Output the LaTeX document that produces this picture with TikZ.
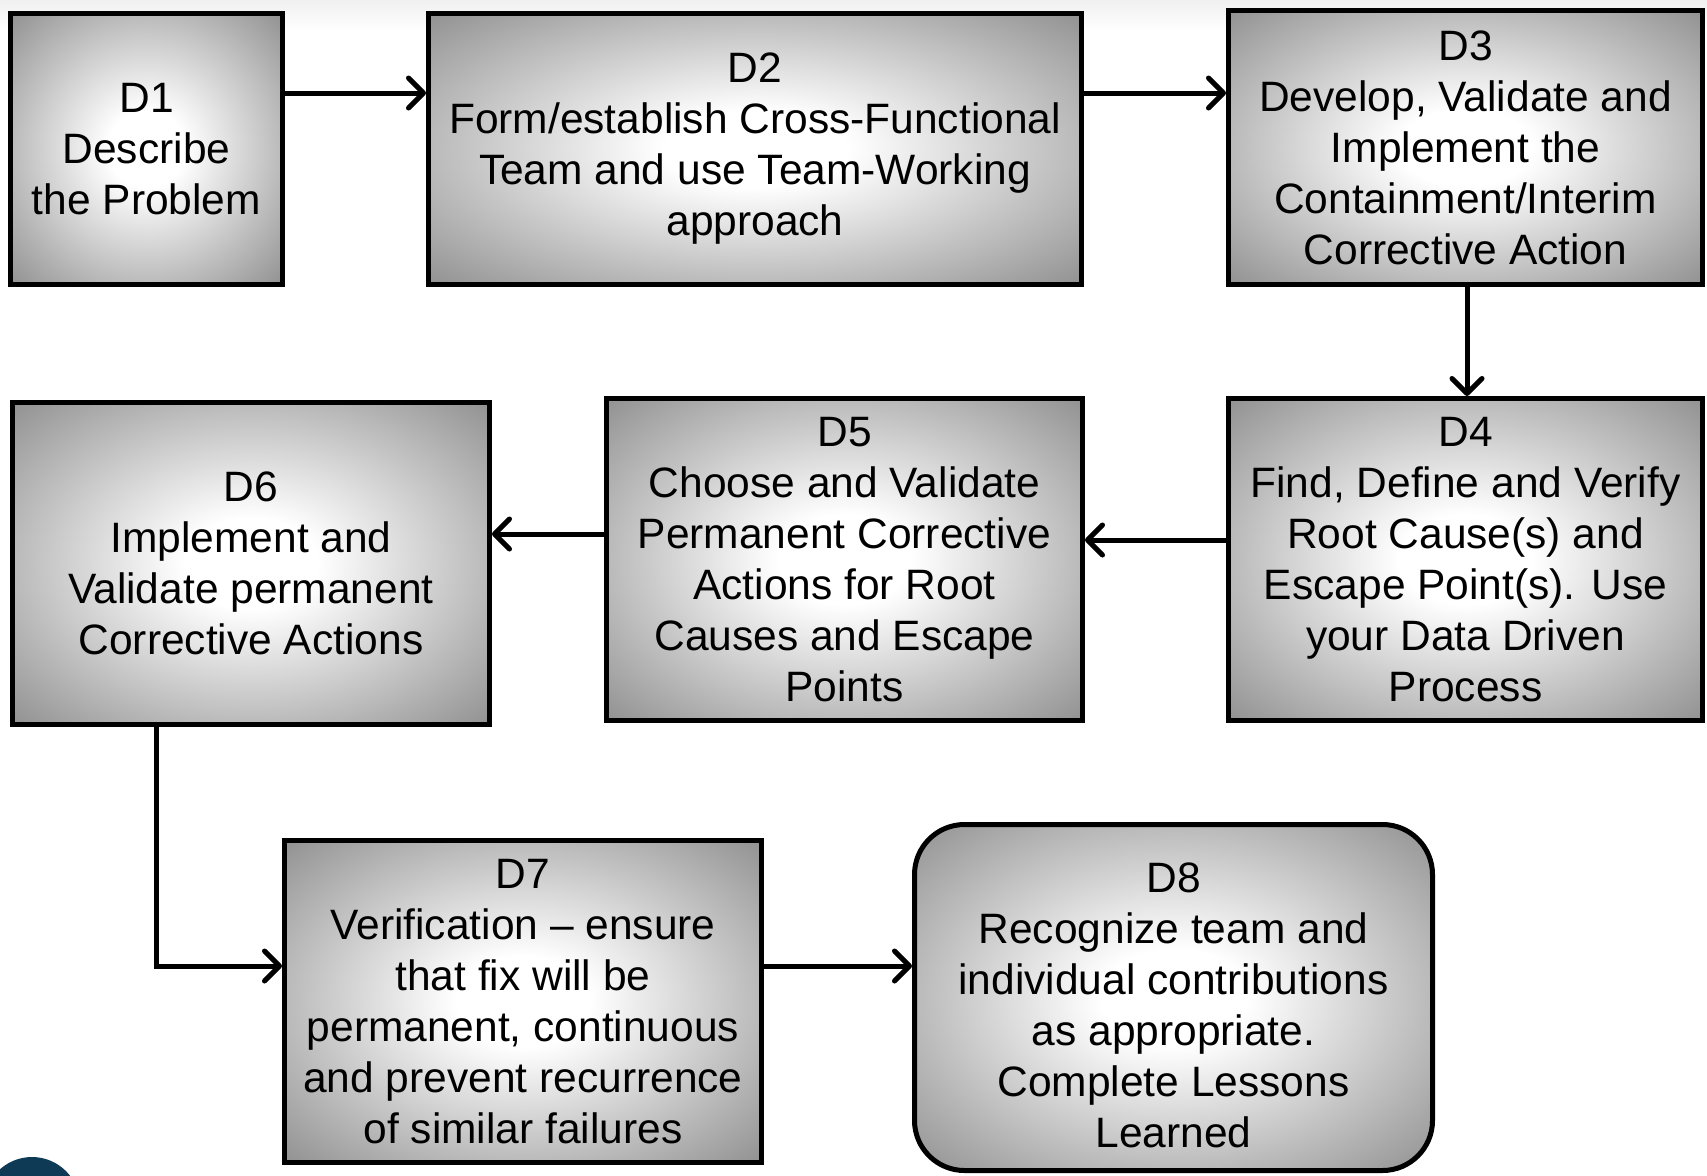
\documentclass[tikz,border=0pt]{standalone}
\usepackage{fontspec}
\setmainfont{Liberation Sans}
\usetikzlibrary{arrows.meta}
\definecolor{logoblue}{HTML}{0F3A55}
\pgfdeclareradialshading{boxglow}{\pgfpoint{0bp}{0bp}}{color(0bp)=(white); color(7bp)=(white); color(36bp)=(black!44); color(50bp)=(black!44)}
\tikzset{
  dbox/.style={draw=black, line width=5pt, shading=boxglow,
    align=center, inner sep=0pt, font=\fontsize{42.5}{51}\selectfont},
  arr/.style={line width=5pt, -{Straight Barb[length=15pt,width=30pt,round]}}
}
\begin{document}
\begin{tikzpicture}[x=1pt,y=-1pt]
\useasboundingbox (0,0) rectangle (1707,1175);
\shade[top color=black!6, bottom color=white] (0,0) rectangle (1707,30);
\begin{scope}
\clip (0,0) rectangle (1707,1175);
\fill[logoblue] (32,1205) circle (48);
\end{scope}

\node[dbox, minimum width=272pt, minimum height=271pt] (d1) at (146.5,149) {D1\\Describe\\the Problem};
\node[dbox, minimum width=653pt, minimum height=271pt] (d2) at (755,149) {D2\\Form/establish Cross-Functional\\Team and use Team-Working\\approach};
\node[dbox, minimum width=474pt, minimum height=274pt] (d3) at (1465.5,147.5) {D3\\Develop, Validate and\\Implement the\\Containment/Interim\\Corrective Action};
\node[dbox, minimum width=474pt, minimum height=322pt] (d4) at (1465.5,559.5) {D4\\Find, Define and Verify\\Root Cause(s) and\\Escape Point(s). Use\\your Data Driven\\Process};
\node[dbox, minimum width=476pt, minimum height=322pt] (d5) at (844.5,559.5) {D5\\Choose and Validate\\Permanent Corrective\\Actions for Root\\Causes and Escape\\Points};
\node[dbox, minimum width=477pt, minimum height=322pt] (d6) at (251,563.5) {D6\\Implement and\\Validate permanent\\Corrective Actions};
\node[dbox, minimum width=477pt, minimum height=322pt] (d7) at (523,1001.5) {D7\\Verification – ensure\\that fix will be\\permanent, continuous\\and prevent recurrence\\of similar failures};
\node[dbox, rounded corners=50pt, minimum width=518pt, minimum height=346pt] (d8) at (1173.5,997.5) {\rule{0pt}{45pt}D8\\Recognize team and\\individual contributions\\as appropriate.\\Complete Lessons\\Learned};

\coordinate (r1) at (0,93);
\coordinate (r4) at (0,540);
\coordinate (r5) at (0,534);
\coordinate (c6) at (156,0);
\coordinate (r7) at (0,966);
\coordinate (c3) at (1467,0);

\draw[arr] (d1.east|-r1) -- (d2.west|-r1);
\draw[arr] (d2.east|-r1) -- (d3.west|-r1);
\draw[arr] (d3.south-|c3) -- (d4.north-|c3);
\draw[arr] (d4.west|-r4) -- (d5.east|-r4);
\draw[arr] (d5.west|-r5) -- (d6.east|-r5);
\draw[arr] (d6.south-|c6) -- (c6|-r7) -- (d7.west|-r7);
\draw[arr] (d7.east|-r7) -- (d8.west|-r7);
\end{tikzpicture}
\end{document}
